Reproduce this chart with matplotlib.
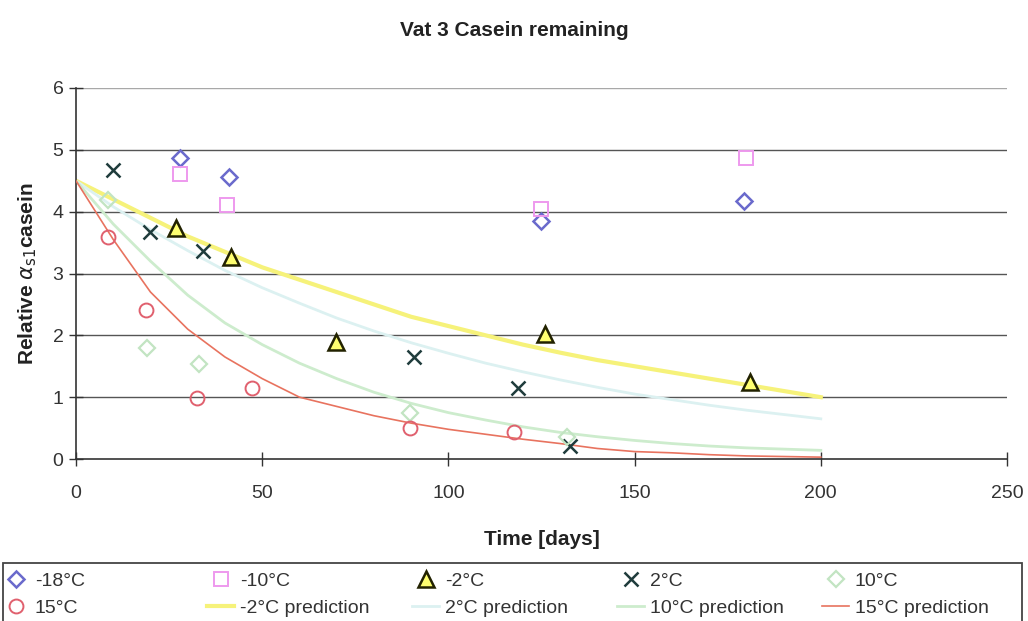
import matplotlib
matplotlib.use("Agg")
import matplotlib.pyplot as plt
from matplotlib.patches import Rectangle

plt.rcParams['font.family'] = ['Liberation Sans', 'DejaVu Sans']

# Measured data
x_m18 = [27.9, 41.0, 124.8, 179.3]
y_m18 = [4.87, 4.56, 3.85, 4.17]
x_m10 = [27.9, 40.5, 124.8, 179.8]
y_m10 = [4.61, 4.11, 4.05, 4.87]
x_m2 = [26.8, 41.6, 69.8, 125.9, 180.9]
y_m2 = [3.74, 3.27, 1.89, 2.02, 1.25]
x_p2 = [9.9, 19.9, 34.0, 90.7, 118.6, 132.6]
y_p2 = [4.68, 3.67, 3.37, 1.65, 1.15, 0.21]
x_p10 = [8.6, 19.0, 33.0, 89.6, 131.8]
y_p10 = [4.19, 1.80, 1.54, 0.74, 0.36]
x_p15 = [8.6, 18.8, 32.5, 47.2, 89.6, 117.5]
y_p15 = [3.59, 2.41, 0.99, 1.15, 0.50, 0.44]

# Prediction curves
x_pred = [0, 10, 20, 30, 40, 50, 60, 70, 80, 90, 100, 110, 120, 130, 140,
          150, 160, 170, 180, 190, 200]
pred_m2 = [4.5, 4.2, 3.9, 3.6, 3.35, 3.1, 2.9, 2.7, 2.5, 2.3, 2.15, 2.0, 1.85,
           1.72, 1.6, 1.5, 1.4, 1.3, 1.2, 1.1, 1.0]
pred_p2 = [4.5, 4.08, 3.71, 3.37, 3.05, 2.77, 2.52, 2.28, 2.07, 1.88, 1.71,
           1.55, 1.41, 1.28, 1.16, 1.05, 0.96, 0.87, 0.79, 0.72, 0.65]
pred_p10 = [4.5, 3.8, 3.2, 2.65, 2.2, 1.85, 1.55, 1.3, 1.08, 0.9, 0.75, 0.63,
            0.52, 0.43, 0.36, 0.3, 0.25, 0.21, 0.18, 0.16, 0.14]
pred_p15 = [4.5, 3.55, 2.7, 2.1, 1.65, 1.3, 1.0, 0.85, 0.7, 0.58, 0.48, 0.4,
            0.32, 0.25, 0.17, 0.12, 0.1, 0.07, 0.05, 0.04, 0.03]

x_ticks = [0, 50, 100, 150, 200, 250]
y_ticks = [0, 1, 2, 3, 4, 5, 6]

W, H = 1028, 621
fig = plt.figure(figsize=(W / 100, H / 100), dpi=100)
ax = fig.add_axes([76 / W, 1 - 459 / H, (1007 - 76) / W, (459 - 88) / H])

for yv in y_ticks[1:]:
    ax.axhline(yv, color='#a8a8a8' if yv == 6 else '#555555', lw=1.0,
               zorder=1)

h_pm2, = ax.plot(x_pred, pred_m2, color='#f6f27a', lw=3.0, zorder=2,
                 label='-2°C prediction')
h_pp2, = ax.plot(x_pred, pred_p2, color='#dcf1f1', lw=2.0, zorder=2,
                 label='2°C prediction')
h_pp10, = ax.plot(x_pred, pred_p10, color='#cdeccd', lw=2.0, zorder=2,
                  label='10°C prediction')
h_pp15, = ax.plot(x_pred, pred_p15, color='#e8735f', lw=1.2, zorder=3,
                  label='15°C prediction')

h_m18, = ax.plot(x_m18, y_m18, 'D', ms=8, mfc='none', mec='#6a6acc', mew=1.8,
                 ls='none', label='-18°C', zorder=4)
h_m10, = ax.plot(x_m10, y_m10, 's', ms=10, mfc='none', mec='#ee99ee', mew=1.4,
                 ls='none', label='-10°C', zorder=4)
h_m2, = ax.plot(x_m2, y_m2, '^', ms=11, mfc='#ffff70', mec='#222200', mew=1.8,
                ls='none', label='-2°C', zorder=4)
h_p2, = ax.plot(x_p2, y_p2, 'x', ms=10, mec='#1f3c3c', mew=1.8,
                ls='none', label='2°C', zorder=4)
h_p10, = ax.plot(x_p10, y_p10, 'D', ms=8, mfc='none', mec='#c2e4c2', mew=1.6,
                 ls='none', label='10°C', zorder=4)
h_p15, = ax.plot(x_p15, y_p15, 'o', ms=10, mfc='none', mec='#e0606e', mew=1.4,
                 ls='none', label='15°C', zorder=4)

ax.set_xlim(0, 250)
ax.set_ylim(0, 6)
ax.set_xticks(x_ticks)
ax.set_yticks(y_ticks)
ax.tick_params(direction='inout', length=10, width=1, labelsize=14,
               colors='#333333')
ax.tick_params(axis='x', pad=14)
ax.tick_params(axis='y', pad=4)
for s in ['top', 'right']:
    ax.spines[s].set_visible(False)
for s in ['left', 'bottom']:
    ax.spines[s].set_color('#333333')
    ax.spines[s].set_linewidth(1.2)

ax.set_xlabel('Time [days]', fontsize=15, fontweight='bold', labelpad=20,
              color='#222222')
ax.set_ylabel(r'Relative $\alpha_{\mathrm{s1}}$casein', fontsize=15,
              fontweight='bold', labelpad=10, color='#222222')
fig.text(0.5, 1 - 30 / H, 'Vat 3 Casein remaining', ha='center',
         va='center', fontsize=15, fontweight='bold', color='#222222')

# Legend: 5 evenly spaced columns in one frame
fig.patches.append(Rectangle((3 / W, -0.02), (1022 - 3) / W,
                             0.02 + 1 - 563 / H, transform=fig.transFigure,
                             fill=False, edgecolor='#444444', lw=1.3))
row1 = [h_m18, h_m10, h_m2, h_p2, h_p10]
row2 = [h_p15, h_pm2, h_pp2, h_pp10, h_pp15]
fs = 14
fpx = fs * 100 / 72
L, pad = 1.4, 0.3
for i in range(5):
    text_x = 35 + 205 * i
    anchor = text_x - (L + pad) * fpx
    hs = [row1[i], row2[i]]
    fig.legend(hs, [h.get_label() for h in hs], loc='upper left',
               bbox_to_anchor=(anchor / W, 1 - 572 / H), frameon=False,
               fontsize=fs, handlelength=L, handletextpad=pad,
               borderpad=0.0, borderaxespad=0.0, labelspacing=0.5,
               labelcolor='#333333')

fig.savefig('out.png', dpi=100)
